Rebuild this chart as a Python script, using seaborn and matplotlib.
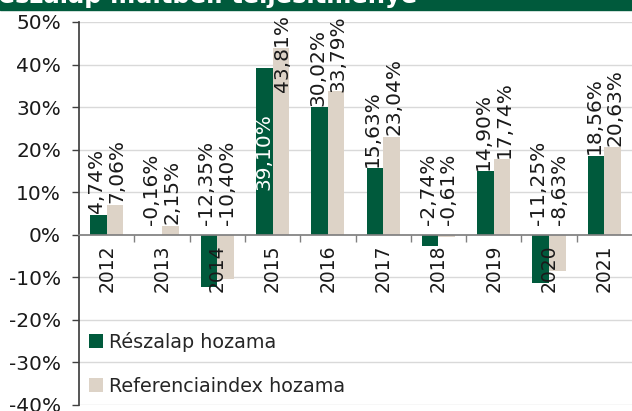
import pandas as pd
import seaborn as sns
import matplotlib.pyplot as plt
from matplotlib.patches import Rectangle
from matplotlib.ticker import FuncFormatter, FixedLocator

# data
years = ["2012", "2013", "2014", "2015", "2016", "2017", "2018", "2019", "2020", "2021"]
fund_returns = [4.74, -0.16, -12.35, 39.10, 30.02, 15.63, -2.74, 14.90, -11.25, 18.56]
index_returns = [7.06, 2.15, -10.40, 43.81, 33.79, 23.04, -0.61, 17.74, -8.63, 20.63]
series_names = ["Részalap hozama", "Referenciaindex hozama"]
title_text = "Részalap múltbeli teljesítménye"

GREEN = "#005a3c"
BEIGE = "#ddd3c7"
DPI = 100

df = pd.DataFrame({
    "Év": years * 2,
    "Hozam": fund_returns + index_returns,
    "Sorozat": [series_names[0]] * len(years) + [series_names[1]] * len(years),
})

sns.set_theme(style="white")
plt.rcParams["font.family"] = ["DejaVu Sans"]

fig = plt.figure(figsize=(6.32, 4.11), dpi=DPI)
ax = fig.add_axes([0.125, 0.0146, 0.875, 0.932])

sns.barplot(data=df, x="Év", y="Hozam", hue="Sorozat", hue_order=series_names,
            palette=[GREEN, BEIGE], width=0.6, gap=0, saturation=1,
            edgecolor="none", ax=ax)

ax.set_ylim(-40, 50)
ax.set_xlim(-0.5, len(years) - 0.5)
yticks = list(range(-40, 51, 10))
ax.set_yticks(yticks)
ax.yaxis.set_major_formatter(FuncFormatter(lambda v, p: f"{v:.0f}%"))
for t in yticks:
    if t != 0:
        ax.axhline(t, color="#d9d9d9", lw=1, zorder=0)

ax.set_xlabel("")
ax.set_ylabel("")
for s in ["top", "right"]:
    ax.spines[s].set_visible(False)
ax.spines["bottom"].set_position(("data", 0))
ax.spines["bottom"].set_color("#808080")
ax.spines["left"].set_color("#404040")
ax.spines["bottom"].set_zorder(3)

ax.xaxis.set_minor_locator(FixedLocator([i + 0.5 for i in range(len(years) - 1)]))
ax.tick_params(axis="x", which="major", length=0, pad=7, labelsize=13.5,
               labelrotation=90, labelcolor="#1a1a1a")
ax.tick_params(axis="x", which="minor", length=5, width=1, color="#808080",
               direction="out", bottom=True)
ax.tick_params(axis="y", length=5, width=1, color="#404040", direction="out",
               labelsize=14.5, labelcolor="#1a1a1a", left=True, pad=8)
ax.xaxis.set_zorder(3)

# data labels
def fmt(v):
    return f"{v:.2f}".replace(".", ",") + "%"

labels = []
for i, (cont, vals) in enumerate(zip(ax.containers, [fund_returns, index_returns])):
    xshift = -1.5 if i == 0 else 1.5
    for bar, v in zip(cont, vals):
        x = bar.get_x() + bar.get_width() / 2
        if i == 0 and v > 35:
            ax.text(x, v / 2, fmt(v), rotation=90, ha="center", va="center",
                    fontsize=14.5, color="white", zorder=4)
        else:
            off = 1 if v >= 0 else 7
            labels.append(ax.annotate(fmt(v), (x, max(v, 0)), xytext=(xshift, off),
                                      textcoords="offset points", rotation=90,
                                      ha="center", va="bottom", fontsize=14.5,
                                      color="#1a1a1a", zorder=4))

# labels that would run off the top are pushed down, as in the original
fig.canvas.draw()
renderer = fig.canvas.get_renderer()
top_limit = fig.bbox.height - 15
for ann in labels:
    bb = ann.get_window_extent(renderer)
    if bb.y1 > top_limit:
        dx, dy = ann.xyann
        ann.xyann = (dx, dy - (bb.y1 - top_limit) * 72 / DPI)

leg = ax.legend(loc="lower left", bbox_to_anchor=(-0.006, -0.011), frameon=False,
                fontsize=13.8, handlelength=0.72, handleheight=0.72,
                handletextpad=0.3, labelspacing=1.3, borderaxespad=0.3)

# cut-off title band at the top
fig.patches.append(Rectangle((0, 1 - 10 / 411), 1, 10 / 411, transform=fig.transFigure,
                             color=GREEN, zorder=5))
fig.text(417 / 632, 1 - 3 / 411, title_text, ha="right", va="baseline", color="white",
         fontsize=17.5, fontweight="bold", zorder=6)

fig.savefig("out.png", dpi=DPI)
